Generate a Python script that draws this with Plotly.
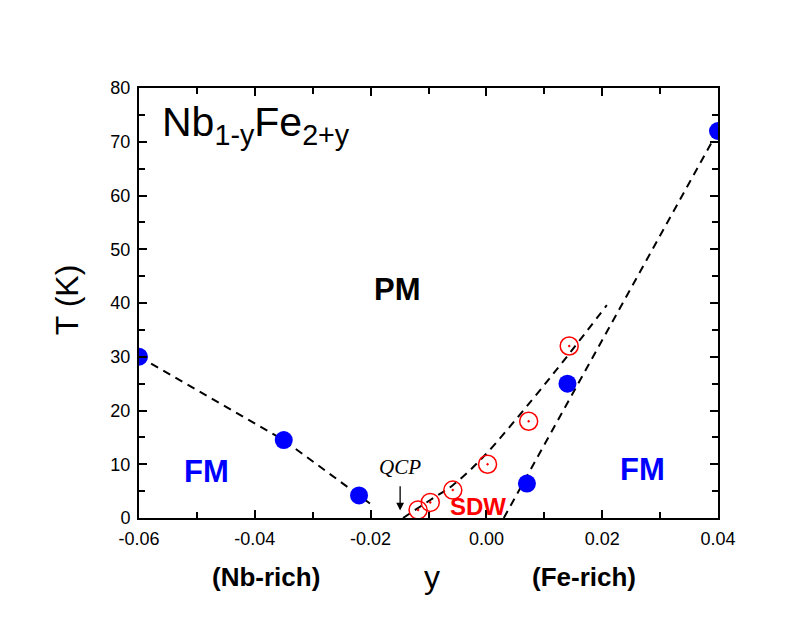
"""Nb1-yFe2+y magnetic phase diagram."""
import plotly.graph_objects as go

# FM transition (filled blue)
fm_y = [-0.060, -0.035, -0.022, 0.007, 0.014, 0.040]
fm_T = [30.0, 14.5, 4.2, 6.4, 25.0, 72.0]

# SDW transition (open red with dot)
sdw_y = [-0.0118, -0.0097, -0.0058, 0.0002, 0.0073, 0.0143]
sdw_T = [1.5, 2.9, 5.2, 10.0, 18.0, 32.0]

# dashed guide lines
left_y = [-0.060, -0.035, -0.022, -0.0201]
left_T = [30.0, 14.5, 4.2, 2.7]
sdw_line_y = [-0.0144, -0.0097, -0.0058, -0.0006, 0.0079, 0.0144, 0.0208]
sdw_line_T = [0.0, 3.35, 6.1, 11.3, 22.0, 30.7, 39.6]
right_y = [0.0030, 0.0400]
right_T = [0.0, 72.0]

# x tick labels use a plain hyphen, as in the original
x_ticks = [-0.06, -0.04, -0.02, 0.0, 0.02, 0.04]
x_ticklabels = ["-0.06", "-0.04", "-0.02", "0.00", "0.02", "0.04"]

FONT = "Liberation Sans, Arial, sans-serif"
BLUE = "#0000ff"
RED = "#ff0000"
dash = {"color": "black", "width": 2, "dash": "8px,6px"}

fig = go.Figure()
fig.add_trace(go.Scatter(x=left_y, y=left_T, mode="lines", line=dash))
fig.add_trace(go.Scatter(x=sdw_line_y, y=sdw_line_T, mode="lines", line=dict(dash, shape="spline")))
fig.add_trace(go.Scatter(x=right_y, y=right_T, mode="lines", line=dash))
fig.add_trace(go.Scatter(x=fm_y, y=fm_T, mode="markers",
                         marker=dict(symbol="circle", size=18, color=BLUE, line=dict(width=0))))
fig.add_trace(go.Scatter(x=sdw_y, y=sdw_T, mode="markers",
                         marker=dict(symbol="circle-open-dot", size=18, color=RED, line=dict(width=1.5, color=RED))))

ann = [
    dict(x=-0.0563, y=73.2, text="Nb<sub>1-y</sub>Fe<sub>2+y</sub>", xanchor="left",
         font=dict(size=41, family=FONT, color="black")),
    dict(x=-0.0154, y=42.6, text="<b>PM</b>", font=dict(size=31, family=FONT, color="black")),
    dict(x=-0.0484, y=8.6, text="<b>FM</b>", font=dict(size=31, family=FONT, color=BLUE)),
    dict(x=0.0270, y=9.1, text="<b>FM</b>", font=dict(size=31, family=FONT, color=BLUE)),
    dict(x=-0.0015, y=2.2, text="<b>SDW</b>", font=dict(size=24, family=FONT, color=RED)),
    dict(x=-0.0149, y=9.4, text="<i>QCP</i>", font=dict(size=21, family="Liberation Serif, Times New Roman, serif", color="black")),
    dict(x=-0.0149, y=1.4, ax=-0.0149, ay=6.2, axref="x", ayref="y", text="", showarrow=True,
         arrowhead=2, arrowsize=1.2, arrowwidth=1.3, arrowcolor="black"),
    dict(x=0.219, y=-0.137, xref="paper", yref="paper", text="<b>(Nb-rich)</b>",
         font=dict(size=26, family=FONT, color="black")),
    dict(x=0.506, y=-0.137, xref="paper", yref="paper", text="y",
         font=dict(size=32, family=FONT, color="black")),
    dict(x=0.769, y=-0.137, xref="paper", yref="paper", text="<b>(Fe-rich)</b>",
         font=dict(size=26, family=FONT, color="black")),
    dict(x=-0.124, y=0.507, xref="paper", yref="paper", text="T (K)", textangle=-90,
         font=dict(size=32, family=FONT, color="black")),
]
for a in ann:
    a.setdefault("showarrow", False)
    a.setdefault("xref", "x")
    a.setdefault("yref", "y")
    a.setdefault("xanchor", "center")
    a.setdefault("yanchor", "middle")
fig.update_layout(annotations=ann)

axis = dict(showgrid=False, zeroline=False, showline=True, linewidth=2, linecolor="black",
            mirror="ticks", ticks="inside", ticklen=8, tickwidth=2, tickcolor="black",
            tickfont=dict(size=18, family=FONT, color="black"))
fig.update_xaxes(range=[-0.06, 0.04], tickmode="array", tickvals=x_ticks, ticktext=x_ticklabels,
                 ticklabelstandoff=3,
                 minor=dict(dtick=0.01, ticks="inside", ticklen=6, tickwidth=2, tickcolor="black"),
                 **axis)
fig.update_yaxes(range=[0, 80], dtick=10, ticklabelstandoff=3,
                 minor=dict(dtick=5, ticks="inside", ticklen=6, tickwidth=2, tickcolor="black"),
                 **axis)

# page body has an 8px margin, so the figure is 16px smaller than the window
fig.update_layout(
    width=790, height=619, showlegend=False,
    margin=dict(l=131, r=80, t=80, b=109),
    plot_bgcolor="#ffffff", paper_bgcolor="#ffffff",
    font=dict(family=FONT),
)
fig.write_html("out.html")
